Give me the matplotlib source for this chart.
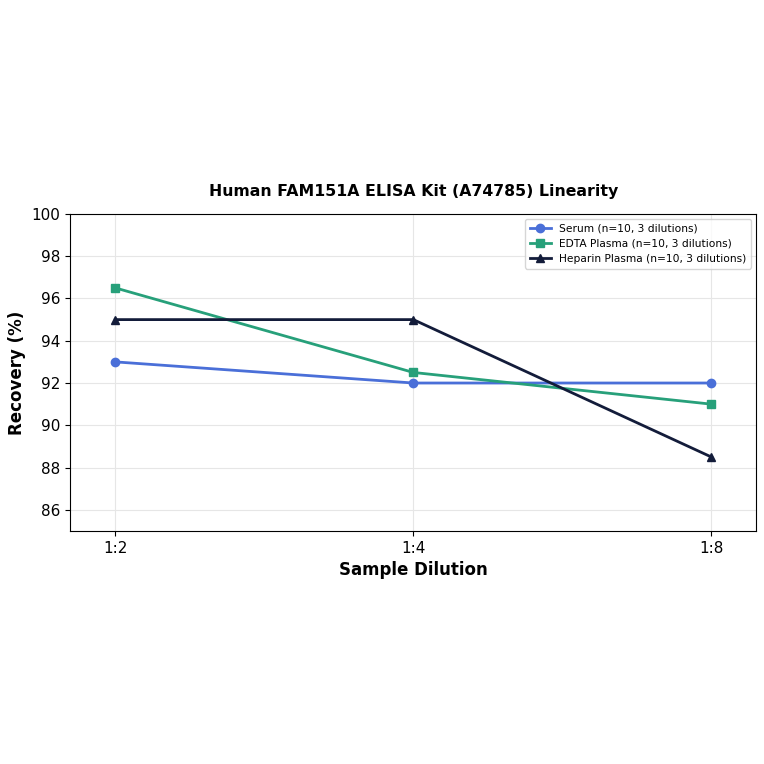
import matplotlib
matplotlib.use('Agg')
import matplotlib.pyplot as plt

dilutions = ['1:2', '1:4', '1:8']
serum = [93, 92, 92]
edta_plasma = [96.5, 92.5, 91]
heparin_plasma = [95, 95, 88.5]

fig = plt.figure(figsize=(7.64, 7.64), dpi=100)
ax = fig.add_axes([0.092, 0.305, 0.898, 0.415])

x = range(len(dilutions))
ax.plot(x, serum, color='#4a6fd8', marker='o', markersize=6, linewidth=2,
        label='Serum (n=10, 3 dilutions)')
ax.plot(x, edta_plasma, color='#27a07a', marker='s', markersize=6, linewidth=2,
        label='EDTA Plasma (n=10, 3 dilutions)')
ax.plot(x, heparin_plasma, color='#131c3a', marker='^', markersize=6, linewidth=2,
        label='Heparin Plasma (n=10, 3 dilutions)')

ax.set_xticks(list(x))
ax.set_xticklabels(dilutions, fontsize=11)
ax.set_xlim(-0.151, 2.151)
ax.set_ylim(85, 100)
ax.set_yticks([86, 88, 90, 92, 94, 96, 98, 100])
ax.tick_params(axis='y', labelsize=11)
ax.grid(True, color='#e6e6e6', linewidth=0.8)
ax.set_axisbelow(True)

ax.set_xlabel('Sample Dilution', fontsize=12, fontweight='bold')
ax.set_ylabel('Recovery (%)', fontsize=12, fontweight='bold')
ax.set_title('Human FAM151A ELISA Kit (A74785) Linearity', fontsize=11.3,
             fontweight='bold', pad=13)
ax.legend(loc='upper right', fontsize=7.7)

fig.savefig('out.png', dpi=100)
